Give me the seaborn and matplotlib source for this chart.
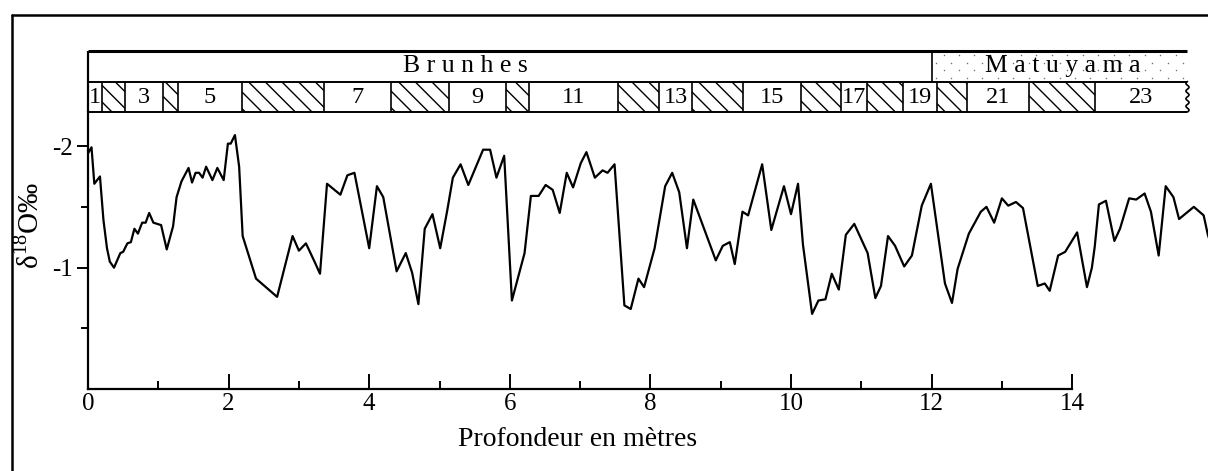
"""Oxygen isotope record (delta 18O) against core depth, with marine stages
and the Brunhes / Matuyama chrons drawn as a strip above the curve."""

import matplotlib

matplotlib.use("Agg")
import matplotlib.pyplot as plt
import numpy as np
import seaborn as sns
from matplotlib.lines import Line2D
from matplotlib.patches import Rectangle
from matplotlib.ticker import FixedLocator


# depth in metres and delta 18O (per mil)
depth_m = [
    0.00, 0.05, 0.09, 0.17, 0.22, 0.27, 0.31, 0.37, 0.46, 0.50,
    0.56, 0.61, 0.66, 0.71, 0.77, 0.82, 0.87, 0.93, 1.04, 1.12,
    1.21, 1.26, 1.33, 1.43, 1.48, 1.53, 1.58, 1.63, 1.68, 1.77,
    1.84, 1.93, 1.99, 2.03, 2.09, 2.15, 2.20, 2.39, 2.69, 2.91,
    3.00, 3.10, 3.23, 3.30, 3.40, 3.59, 3.69, 3.79, 4.00, 4.11,
    4.20, 4.39, 4.52, 4.61, 4.70, 4.79, 4.90, 5.01, 5.11, 5.19,
    5.30, 5.41, 5.62, 5.72, 5.81, 5.92, 6.03, 6.21, 6.30, 6.41,
    6.51, 6.61, 6.71, 6.81, 6.90, 7.01, 7.09, 7.21, 7.32, 7.39,
    7.49, 7.63, 7.72, 7.83, 7.91, 8.06, 8.21, 8.31, 8.41, 8.52,
    8.61, 8.93, 9.03, 9.13, 9.20, 9.31, 9.39, 9.59, 9.72, 9.90,
    10.00, 10.10, 10.17, 10.30, 10.39, 10.49, 10.58, 10.68, 10.78, 10.90,
    11.09, 11.20, 11.28, 11.38, 11.48, 11.61, 11.72, 11.86, 11.99, 12.19,
    12.29, 12.37, 12.53, 12.70, 12.78, 12.89, 13.00, 13.09, 13.20, 13.30,
    13.51, 13.61, 13.68, 13.80, 13.90, 14.07, 14.21, 14.28, 14.32, 14.38,
    14.48, 14.60, 14.68, 14.81, 14.91, 15.03, 15.12, 15.23, 15.33, 15.44,
    15.52, 15.73, 15.87, 15.93, 16.00,
]
delta18o = [
    -1.94, -1.99, -1.69, -1.75, -1.39, -1.16, -1.05, -1.00, -1.12, -1.13,
    -1.20, -1.21, -1.32, -1.28, -1.37, -1.37, -1.45, -1.37, -1.35, -1.15,
    -1.34, -1.58, -1.71, -1.82, -1.70, -1.78, -1.78, -1.74, -1.83, -1.72,
    -1.82, -1.72, -2.02, -2.02, -2.09, -1.83, -1.26, -0.91, -0.76, -1.26,
    -1.14, -1.20, -1.04, -0.95, -1.69, -1.60, -1.76, -1.78, -1.16, -1.67,
    -1.58, -0.97, -1.12, -0.96, -0.70, -1.32, -1.44, -1.16, -1.47, -1.74,
    -1.85, -1.68, -1.97, -1.97, -1.74, -1.92, -0.73, -1.12, -1.59, -1.59,
    -1.68, -1.64, -1.45, -1.78, -1.66, -1.86, -1.95, -1.74, -1.80, -1.78,
    -1.85, -0.69, -0.66, -0.91, -0.84, -1.16, -1.67, -1.78, -1.62, -1.16,
    -1.56, -1.06, -1.18, -1.21, -1.03, -1.46, -1.43, -1.85, -1.31, -1.67,
    -1.44, -1.69, -1.19, -0.62, -0.73, -0.74, -0.95, -0.82, -1.27, -1.36,
    -1.12, -0.75, -0.85, -1.26, -1.18, -1.01, -1.10, -1.51, -1.69, -0.87,
    -0.71, -0.99, -1.28, -1.46, -1.50, -1.37, -1.57, -1.51, -1.54, -1.49,
    -0.85, -0.87, -0.81, -1.10, -1.13, -1.29, -0.84, -1.00, -1.17, -1.52,
    -1.55, -1.22, -1.32, -1.57, -1.56, -1.61, -1.46, -1.10, -1.67, -1.58,
    -1.40, -1.50, -1.43, -1.27, -1.15,
]

# isotope stages 1..23 (odd = white box with label, even = hatched)
stage_edges = [
    0.0, 0.195, 0.531, 1.071, 1.276, 2.186, 3.361, 4.306, 5.139, 5.946,
    6.277, 7.543, 8.127, 8.596, 9.321, 10.14, 10.71, 11.08, 11.60, 12.07,
    12.51, 13.385, 14.32, 15.64,
]
stage_numbers = list(range(1, 24))

chron_names = ["B r u n h e s", "M a t u y a m a"]
chron_edges = [0.0, 12.0, 15.64]
chron_label_x = [5.37, 13.86]

x_ticks = [0, 2, 4, 6, 8, 10, 12, 14]
x_minor_ticks = [1, 3, 5, 7, 9, 11, 13]
y_ticks = [-2, -1]
y_tick_labels = ["-2", "-1"]
y_minor_ticks = [-1.5, -0.5]

W, H = 1208, 471


def fx(px):
    return px / W


def fy(py):
    return 1 - py / H


sns.set_theme(style="ticks")
plt.rcParams["font.family"] = ["Liberation Serif", "DejaVu Serif"]
plt.rcParams["mathtext.fontset"] = "custom"
plt.rcParams["mathtext.rm"] = "Liberation Serif"
plt.rcParams["axes.unicode_minus"] = False
for key in ["text.color", "axes.labelcolor", "xtick.color", "ytick.color", "axes.edgecolor"]:
    plt.rcParams[key] = "black"

fig = plt.figure(figsize=(W / 100, H / 100), dpi=100)
ax = fig.add_axes([fx(88), fy(389.3), fx(1208) - fx(88), fy(112) - fy(389.3)])
strip = fig.add_axes([fx(88), fy(112), fx(1208) - fx(88), fy(51) - fy(112)], sharex=ax)

# main curve
sns.lineplot(x=depth_m, y=delta18o, ax=ax, color="black", linewidth=1.6,
             sort=False, estimator=None)
ax.set_xlim(0, 1120 / 70.3)
ax.set_ylim(0, -2.28)

for side in ["top", "right"]:
    ax.spines[side].set_visible(False)
for side in ["left", "bottom"]:
    ax.spines[side].set_linewidth(1.6)
ax.spines["bottom"].set_bounds(0, 14)

ax.xaxis.set_major_locator(FixedLocator(x_ticks))
ax.xaxis.set_minor_locator(FixedLocator(x_minor_ticks))
ax.set_yticks(y_ticks, labels=y_tick_labels)
ax.yaxis.set_minor_locator(FixedLocator(y_minor_ticks))
ax.tick_params(axis="x", which="major", direction="in", length=11, width=1.4,
               labelsize=18, pad=3, bottom=True)
ax.tick_params(axis="x", which="minor", direction="in", length=5.5, width=1.4, bottom=True)
ax.tick_params(axis="y", which="major", direction="out", length=8, width=1.4,
               labelsize=18, pad=3, left=True)
ax.tick_params(axis="y", which="minor", direction="out", length=5, width=1.4, left=True)
ax.set_xlabel("")
ax.set_ylabel("")

# stage / chron strip
strip.set_ylim(0, 2)
strip.axis("off")
strip_end = stage_edges[-1]

for i, (a, b) in enumerate(zip(stage_edges[:-1], stage_edges[1:])):
    if i % 2 == 1:
        strip.add_patch(Rectangle((a, 0), b - a, 1, fill=False, hatch="\\\\",
                                  edgecolor="black", linewidth=0))
    else:
        strip.text((a + b) / 2, 0.47, str(stage_numbers[i]), ha="center",
                   va="center", fontsize=17.5)

# light stipple for the Matuyama chron
dot_x, dot_y = [], []
for r, row_y in enumerate([1.12, 1.37, 1.62, 1.87]):
    xs = np.arange(chron_edges[1] + 0.06 + 0.11 * (r % 2), chron_edges[2] - 0.03, 0.22)
    dot_x.extend(xs)
    dot_y.extend([row_y] * len(xs))
strip.scatter(dot_x, dot_y, s=1.2, color="0.45", marker="o", linewidths=0, zorder=1)

for name, xpos in zip(chron_names, chron_label_x):
    strip.text(xpos, 1.5, name, ha="center", va="center", fontsize=18.5, zorder=3)

strip.hlines([0, 1], 0, strip_end, color="black", linewidth=1.4, clip_on=False)
strip.hlines([2], 0, strip_end, color="black", linewidth=2.2, clip_on=False)
strip.vlines(stage_edges[:-1], 0, 1, color="black", linewidth=1.2, clip_on=False)
strip.vlines(chron_edges[:2], 1, 2, color="black", linewidth=1.2, clip_on=False)
strip.vlines([0], 0, 2, color="black", linewidth=1.6, clip_on=False)

# wavy broken edge at the end of the stage row
wave_y = np.linspace(0, 1, 60)
strip.plot(strip_end + 0.022 * np.sin(wave_y * 2 * np.pi * 4), wave_y,
           color="black", linewidth=1.2, clip_on=False)

# axis labels
fig.text(fx(29), fy(226), "δ$^{18}$O‰", rotation=90, ha="center", va="center",
         fontsize=21)
fig.text(fx(578), fy(440), "Profondeur en mètres", ha="center", va="center",
         fontsize=20)

# outer frame (left and top edges)
fig.add_artist(Line2D([fx(12), fx(12)], [0, fy(15)], transform=fig.transFigure,
                      color="black", linewidth=1.8))
fig.add_artist(Line2D([fx(12), 1], [fy(15), fy(15)], transform=fig.transFigure,
                      color="black", linewidth=1.8))

fig.savefig("out.png", dpi=100)
